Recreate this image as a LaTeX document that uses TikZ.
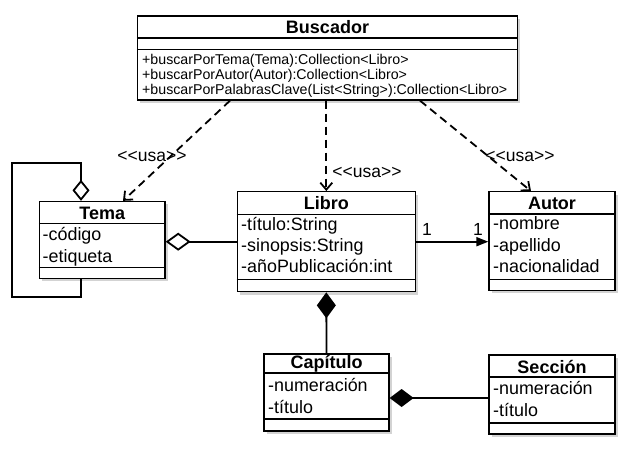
\documentclass[tikz,border=0pt]{standalone}
\usepackage{fontspec}
\setmainfont{Liberation Sans}
\usetikzlibrary{arrows.meta,shadows}

\tikzset{
  classbox/.style={draw=black, line width=1.3pt, fill=white, inner sep=0pt,
    drop shadow={shadow xshift=2.5pt, shadow yshift=-3pt, opacity=0.35}},
  classname/.style={font=\fontsize{18}{21}\selectfont\bfseries, inner sep=0pt},
  member/.style={font=\fontsize{17.9}{21}\selectfont, anchor=west, inner sep=0pt,
    text height=12.5pt, text depth=3.5pt},
  method/.style={font=\fontsize{14.2}{16.5}\selectfont, anchor=west, inner sep=0pt,
    text height=10pt, text depth=3pt},
  sepline/.style={line width=1.1pt},
  link/.style={line width=1.8pt},
  usa/.style={link, dash pattern=on 8pt off 5pt, -{Straight Barb[length=7pt,width=12pt]}},
  lbl/.style={font=\fontsize{17.5}{21}\selectfont, inner sep=0pt}
}

\begin{document}
\begin{tikzpicture}[x=1pt,y=-1pt]
\useasboundingbox (0,0) rectangle (635,457);

% Buscador
\node [classbox, minimum width=380pt, minimum height=84pt] (buscador) at (327.5,58) {};
\draw [sepline] (buscador.west |- 0,38) -- (buscador.east |- 0,38);
\draw [sepline] (buscador.west |- 0,49.5) -- (buscador.east |- 0,49.5);
\node [classname] (buscadorT) at (327.5,27) {Buscador};
\node [method] (m1) at (142,61.5) {+buscarPorTema(Tema):Collection{<}Libro{>}};
\node [method] (m2) at (142,76.5) {+buscarPorAutor(Autor):Collection{<}Libro{>}};
\node [method] (m3) at (142,91.5) {+buscarPorPalabrasClave(List{<}String{>}):Collection{<}Libro{>}};

% Tema
\node [classbox, minimum width=125.5pt, minimum height=77pt] (tema) at (102.3,240) {};
\draw [sepline] (tema.west |- 0,223.3) -- (tema.east |- 0,223.3);
\draw [sepline] (tema.west |- 0,267.3) -- (tema.east |- 0,267.3);
\node [classname] (temaT) at (102.3,213) {Tema};
\node [member] (t1) at (42.5,236.5) {-código};
\node [member] (t2) at (42.5,258) {-etiqueta};

% Libro
\node [classbox, minimum width=178pt, minimum height=100pt] (libro) at (326.3,241.7) {};
\draw [sepline] (libro.west |- 0,214.5) -- (libro.east |- 0,214.5);
\draw [sepline] (libro.west |- 0,279.3) -- (libro.east |- 0,279.3);
\node [classname] (libroT) at (326.3,203) {Libro};
\node [member] (l1) at (241,226) {-título:String};
\node [member] (l2) at (241,247) {-sinopsis:String};
\node [member] (l3) at (241,268) {-añoPublicación:int};

% Autor
\node [classbox, minimum width=126pt, minimum height=98.5pt] (autor) at (552,241) {};
\draw [sepline] (autor.west |- 0,214) -- (autor.east |- 0,214);
\draw [sepline] (autor.west |- 0,279.3) -- (autor.east |- 0,279.3);
\node [classname] (autorT) at (552,203) {Autor};
\node [member] (a1) at (493,225.5) {-nombre};
\node [member] (a2) at (493,246.7) {-apellido};
\node [member] (a3) at (493,268) {-nacionalidad};

% Capitulo
\node [classbox, minimum width=125pt, minimum height=77pt] (capitulo) at (326.5,392.5) {};
\draw [sepline] (capitulo.west |- 0,373) -- (capitulo.east |- 0,373);
\draw [sepline] (capitulo.west |- 0,419) -- (capitulo.east |- 0,419);
\node [classname] (capituloT) at (326.5,363.5) {Capítulo};
\node [member] (c1) at (268,386.5) {-numeración};
\node [member] (c2) at (268,408.5) {-título};

% Seccion
\node [classbox, minimum width=126pt, minimum height=79pt] (seccion) at (552,394.5) {};
\draw [sepline] (seccion.west |- 0,377) -- (seccion.east |- 0,377);
\draw [sepline] (seccion.west |- 0,423) -- (seccion.east |- 0,423);
\node [classname] (seccionT) at (552,366.5) {Sección};
\node [member] (s1) at (493,389.5) {-numeración};
\node [member] (s2) at (493,411.5) {-título};

% dependencias <<usa>>
\draw [usa] (buscador.south -| 230,0) -- (tema.north -| 123,0);
\draw [usa] (buscador.south -| 326.3,0) -- (libro.north);
\draw [usa] (buscador.south -| 420,0) -- (autor.north -| 531,0);
\node [lbl] (usa1) at (152,156) {{<}{<}usa{>}{>}};
\node [lbl] (usa2) at (367,172) {{<}{<}usa{>}{>}};
\node [lbl] (usa3) at (520,156) {{<}{<}usa{>}{>}};

% asociaciones
\coordinate (loopx) at (81,0);
\draw [link, -{Diamond[open,length=21pt,width=17pt]}] (tema.south -| loopx) -- (81,297) -- (12,297)
  -- (12,163) -- (81,163) -- (tema.north -| loopx);
\draw [link, -{Diamond[open,length=25pt,width=18pt]}] (libro.west) -- (tema.east |- libro.west);
\draw [link, -{Triangle[length=12pt,width=9pt]}] (libro.east) -- (autor.west |- libro.east);
\node [lbl] (uno1) at (427,229) {1};
\node [lbl] (uno2) at (478,229) {1};
\draw [link, -{Diamond[length=26pt,width=19pt]}] (capitulo.north) -- (libro.south);
\coordinate (compy) at (0,398);
\draw [link, -{Diamond[length=24pt,width=18pt]}] (seccion.west |- compy) -- (capitulo.east |- compy);
\end{tikzpicture}
\end{document}
